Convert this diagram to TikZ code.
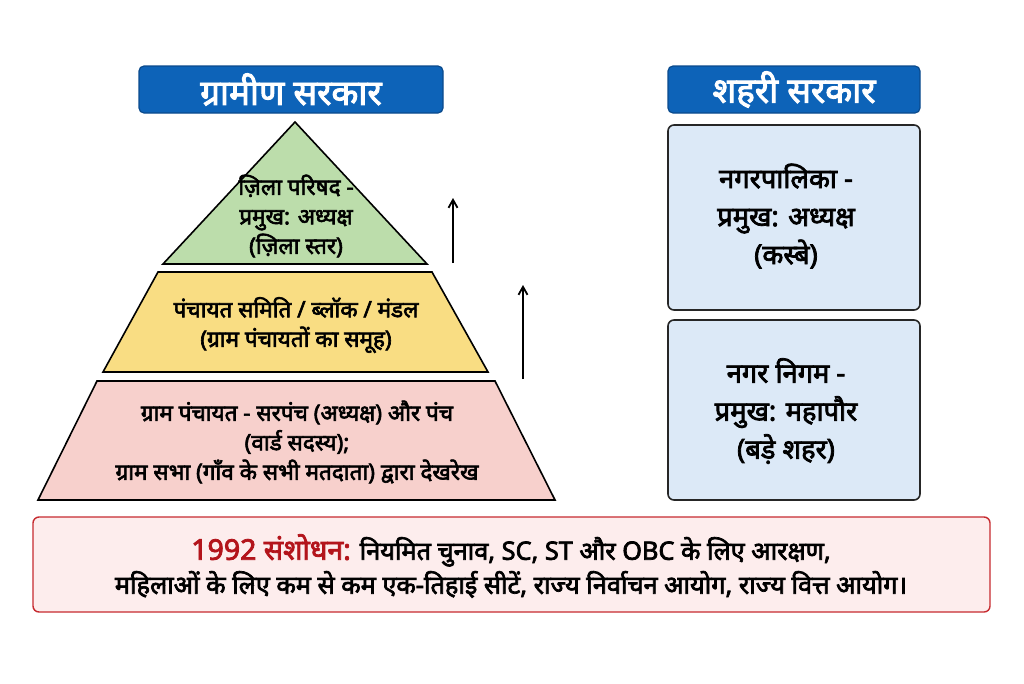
\documentclass[tikz,border=0pt]{standalone}
\usepackage{fontspec}
\newfontfamily\hindi[Script=Devanagari, FakeBold=2.8]{Noto Sans}
\usetikzlibrary{arrows.meta}
\definecolor{titleblue}{HTML}{0D63B8}
\definecolor{titleedge}{HTML}{0A4A8C}
\definecolor{zilagreen}{HTML}{BCDDAB}
\definecolor{samitiyellow}{HTML}{F9DD83}
\definecolor{gramred}{HTML}{F7D0CC}
\definecolor{nagarblue}{HTML}{DCE9F7}
\definecolor{notefill}{HTML}{FDEDED}
\definecolor{noteedge}{HTML}{C62A2F}
\definecolor{notered}{HTML}{B3141B}
\tikzset{
  titlebox/.style={fill=titleblue, draw=titleedge, line width=1.2pt, rounded corners=5pt},
  titletext/.style={text=white, font=\hindi\fontsize{35}{38}\selectfont},
  tier/.style={draw=black, line width=1.6pt, line join=miter},
  tiertext/.style={align=center, font=\hindi\fontsize{22.5}{29.5}\selectfont},
  cityBox/.style={fill=nagarblue, draw=black!85, line width=1.6pt, rounded corners=6pt},
  citytext/.style={align=center, font=\hindi\fontsize{27.3}{38}\selectfont},
  uparrow/.style={line width=1.8pt, -{Straight Barb[length=8pt,width=9pt]}}
}
\begin{document}
\begin{tikzpicture}[x=1pt,y=-1pt]
\useasboundingbox (0,0) rectangle (1024,683);
%%%%% START %%%%%
% titles
\draw[titlebox] (139,66) rectangle (443,113);
\node[titletext] (gramin) at (291,89.5) {ग्रामीण सरकार};
\draw[titlebox] (668,66) rectangle (920,113);
\node[titletext] (shahari) at (794,89.5) {शहरी सरकार};

% pyramid
\draw[tier, fill=zilagreen] (295,122) -- (427,264) -- (163,264) -- cycle;
\node[tiertext] (zila) at (296,216) {ज़िला परिषद -\\प्रमुख: अध्यक्ष\\(ज़िला स्तर)};

\draw[tier, fill=samitiyellow] (158,272) -- (432,272) -- (488,372) -- (103,372) -- cycle;
\node[tiertext] (samiti) at (296,325) {पंचायत समिति / ब्लॉक / मंडल\\(ग्राम पंचायतों का समूह)};

\draw[tier, fill=gramred] (97,381) -- (495,381) -- (555,500) -- (38,500) -- cycle;
\node[tiertext] (gram) at (297,442) {ग्राम पंचायत - सरपंच (अध्यक्ष) और पंच\\(वार्ड सदस्य);\\ग्राम सभा (गाँव के सभी मतदाता) द्वारा देखरेख};

% arrows
\coordinate (upA0) at (453,263);
\coordinate (upA1) at (453,198);
\coordinate (upB0) at (523,379);
\coordinate (upB1) at (523,285);
\draw[uparrow] (upA0) -- (upA1);
\draw[uparrow] (upB0) -- (upB1);

% urban
\draw[cityBox] (668,125) rectangle (920,310);
\node[citytext] (palika) at (786,216) {नगरपालिका -\\प्रमुख: अध्यक्ष\\(कस्बे)};
\draw[cityBox] (668,320) rectangle (920,500);
\node[citytext] (nigam) at (786,411) {नगर निगम -\\प्रमुख: महापौर\\(बड़े शहर)};

% amendment note
\draw[fill=notefill, draw=noteedge, line width=1.4pt, rounded corners=6pt] (33,517) rectangle (990,612);
\node[align=center, font=\hindi\fontsize{25.3}{34}\selectfont] (sanshodhan) at (511,566)
  {{\color{notered}\fontsize{28.5}{34}\selectfont 1992 संशोधन:} नियमित चुनाव, SC, ST और OBC के लिए आरक्षण,\\महिलाओं के लिए कम से कम एक-तिहाई सीटें, राज्य निर्वाचन आयोग, राज्य वित्त आयोग।};
%%%%% END %%%%%
\end{tikzpicture}
\end{document}
